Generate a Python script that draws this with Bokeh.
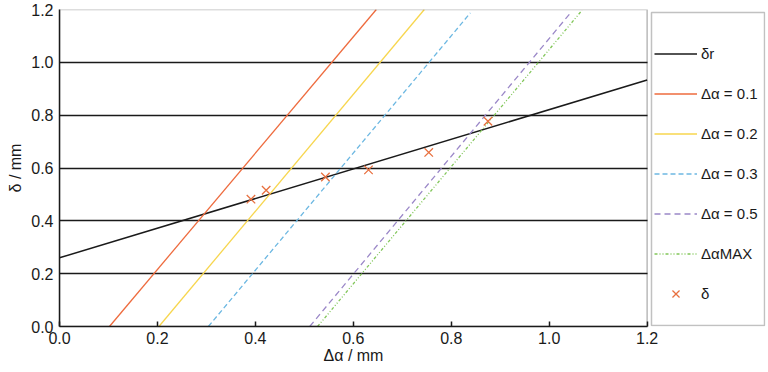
from bokeh.plotting import figure
from bokeh.models import (Range1d, FixedTicker, PrintfTickFormatter, BoxAnnotation,
                          Legend, LegendItem, Title)
from bokeh.embed import file_html
from bokeh.resources import INLINE

# ---- data ----
x_ticks = [0.0, 0.2, 0.4, 0.6, 0.8, 1.0, 1.2]
y_ticks = [0.0, 0.2, 0.4, 0.6, 0.8, 1.0, 1.2]

dr_x = [0.0, 1.2]
dr_y = [0.26, 0.933]

a01_x = [0.102, 0.647]
a01_y = [0.0, 1.2]
a02_x = [0.203, 0.745]
a02_y = [0.0, 1.2]
a03_x = [0.304, 0.839]
a03_y = [0.0, 1.187]
a05_x = [0.511, 1.043]
a05_y = [0.0, 1.186]
amax_x = [0.527, 1.067]
amax_y = [0.0, 1.197]

pts_x = [0.391, 0.422, 0.543, 0.631, 0.754, 0.875]
pts_y = [0.482, 0.516, 0.566, 0.593, 0.659, 0.777]

labels = ["δr", "Δα = 0.1", "Δα = 0.2", "Δα = 0.3", "Δα = 0.5", "ΔαMAX", "δ"]

X_END = 1.2
Y_END = 1.2
X_MAX = 1.4417   # frame extends over the legend panel
FONT = "Liberation Sans"
INK = "#1a1a1a"

p = figure(width=766, height=366, output_backend="svg", toolbar_location=None,
           x_range=Range1d(0, X_MAX), y_range=Range1d(0, Y_END),
           min_border_left=59, min_border_right=1, min_border_top=9,
           min_border_bottom=40)
p.outline_line_color = None
p.background_fill_color = "white"
p.border_fill_color = "white"

# axes
p.xaxis.ticker = FixedTicker(ticks=x_ticks)
p.yaxis.ticker = FixedTicker(ticks=y_ticks)
p.xaxis.formatter = PrintfTickFormatter(format="%.1f")
p.yaxis.formatter = PrintfTickFormatter(format="%.1f")
p.xaxis.bounds = (0, X_END)
p.yaxis.axis_label = "δ / mm"
for ax in (p.xaxis[0], p.yaxis[0]):
    ax.axis_line_color = INK
    ax.axis_line_width = 1.5
    ax.major_tick_line_color = INK
    ax.major_tick_line_width = 1.5
    ax.minor_tick_line_color = None
    ax.major_label_text_font = FONT
    ax.major_label_text_font_size = "16px"
    ax.major_label_text_color = INK
    ax.axis_label_text_font = FONT
    ax.axis_label_text_font_size = "16px"
    ax.axis_label_text_font_style = "normal"
    ax.axis_label_text_color = INK
p.xaxis.major_tick_in = 5
p.xaxis.major_tick_out = 0
p.xaxis.major_label_standoff = 5
p.yaxis.major_tick_in = 0
p.yaxis.major_tick_out = 0
p.yaxis.major_label_standoff = 6
p.yaxis.axis_label_standoff = 4

# x-axis title placed under the middle of the 0..1.2 axis
x_title = Title(text="Δα / mm", align="left", offset=264, standoff=-4,
                text_font=FONT, text_font_size="16px", text_font_style="normal",
                text_color=INK)
p.add_layout(x_title, "below")

p.xgrid.grid_line_color = None
yg = p.ygrid[0]
yg.grid_line_color = INK
yg.grid_line_width = 1.5
yg.cross_bounds = (0, X_END)

# plot box and legend box
p.add_layout(BoxAnnotation(left=0, right=X_END, bottom=0, top=Y_END,
                           fill_alpha=0, line_color=INK, line_width=1.5))
p.add_layout(BoxAnnotation(left=1.2089, right=1.4397, bottom=0.004, top=1.1885,
                           fill_alpha=0, line_color="#333333", line_width=1.5))

r_dr = p.line(dr_x, dr_y, line_color=INK, line_width=1.5)
r1 = p.line(a01_x, a01_y, line_color="#EE6B3E", line_width=1.3)
r2 = p.line(a02_x, a02_y, line_color="#F7D64E", line_width=1.3)
r3 = p.line(a03_x, a03_y, line_color="#6DB8E2", line_width=1.3, line_dash="5 3")
r5 = p.line(a05_x, a05_y, line_color="#9B88C8", line_width=1.3, line_dash="6 4")
rm = p.line(amax_x, amax_y, line_color="#82C65A", line_width=1.3,
            line_dash="3 2 1 2 1 2")
rp = p.scatter(pts_x, pts_y, marker="x", size=12, line_color="#E8703F",
               line_width=1.3)

items = [LegendItem(label=l, renderers=[r]) for l, r in
         zip(labels, [r_dr, r1, r2, r3, r5, rm, rp])]
legend = Legend(items=items, location=(595, 20), orientation="vertical",
                border_line_alpha=0, background_fill_alpha=0, padding=0,
                spacing=15, glyph_width=43, glyph_height=25, label_height=25,
                label_standoff=4, label_text_font=FONT,
                label_text_font_size="15px", label_text_color=INK, margin=0)
p.add_layout(legend)

open("out.html", "w").write(file_html(p, INLINE))
